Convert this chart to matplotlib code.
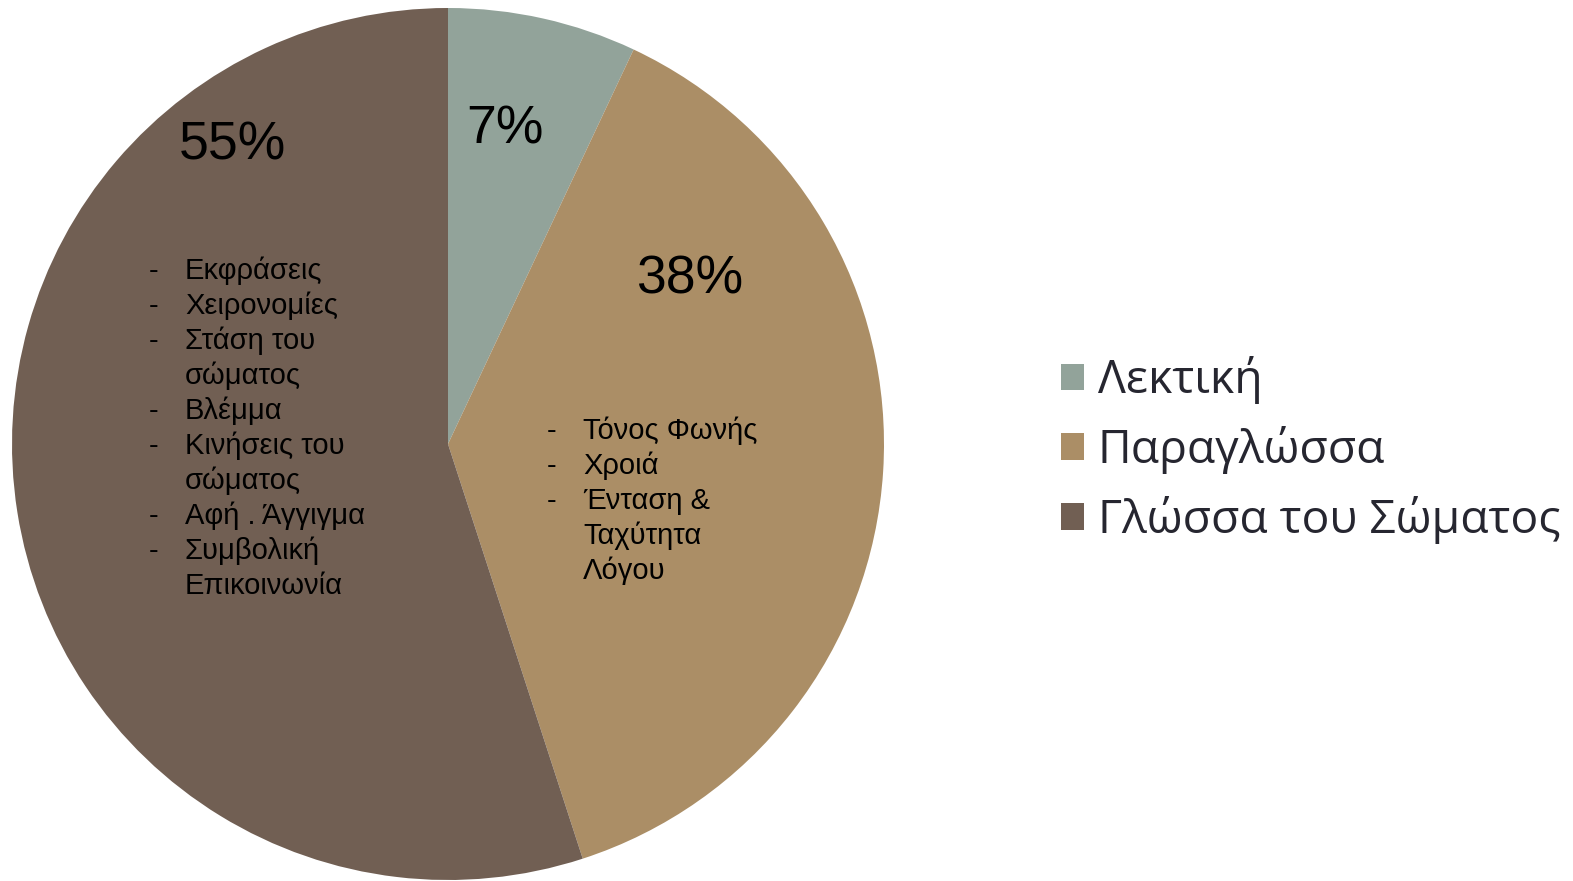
import matplotlib.pyplot as plt
from matplotlib.patches import Patch

# data
labels = ["Λεκτική", "Παραγλώσσα", "Γλώσσα του Σώματος"]
values = [7, 38, 55]
colors = ["#92A39A", "#AB8E66", "#715F53"]
pct_labels = ["7%", "38%", "55%"]

para_items = ["Τόνος Φωνής", "Χροιά", "Ένταση &\nΤαχύτητα\nΛόγου"]
body_items = ["Εκφράσεις", "Χειρονομίες", "Στάση του\nσώματος", "Βλέμμα",
              "Κινήσεις του\nσώματος", "Αφή . Άγγιγμα", "Συμβολική\nΕπικοινωνία"]

W, H = 1573, 881
fig = plt.figure(figsize=(W / 100, H / 100), dpi=100)

# pie centre (448, 444) px, radius 436 px
cx, cy, r = 448, 444, 436
ax = fig.add_axes([(cx - r) / W, (H - cy - r) / H, 2 * r / W, 2 * r / H])
ax.pie(values, colors=colors, startangle=90, counterclock=False, radius=1,
       wedgeprops=dict(linewidth=0))
ax.set_xlim(-1, 1)
ax.set_ylim(-1, 1)
ax.set_aspect("equal")
ax.axis("off")


def px(x, y):
    return (x - cx) / r, (cy - y) / r


# percentage labels
pct_pos = [(505, 130), (690, 280), (232, 145)]
for txt, (x, y) in zip(pct_labels, pct_pos):
    ax.text(*px(x, y), txt, fontsize=38.5, family="Liberation Sans",
            ha="center", va="center", color="black")


def bullet_list(items, x_dash, x_text, y0, step=35):
    y = y0
    for item in items:
        ax.text(*px(x_dash, y), "-", fontsize=21, family="Liberation Sans",
                ha="left", va="center")
        for line in item.split("\n"):
            ax.text(*px(x_text, y), line, fontsize=21, family="Liberation Sans",
                    ha="left", va="center")
            y += step


bullet_list(para_items, 547, 583, 431)
bullet_list(body_items, 149, 185, 271)

handles = [Patch(facecolor=c, edgecolor="none") for c in colors]
fig.legend(handles, labels, loc="center left", bbox_to_anchor=(1061 / W, 1 - 450 / H),
           frameon=False, prop={"family": "Open Sans", "size": 33.3},
           handlelength=0.5, handleheight=0.5, handletextpad=0.3,
           labelspacing=0.47, labelcolor="#262630", borderpad=0, borderaxespad=0)

fig.savefig("out.png", dpi=100)
